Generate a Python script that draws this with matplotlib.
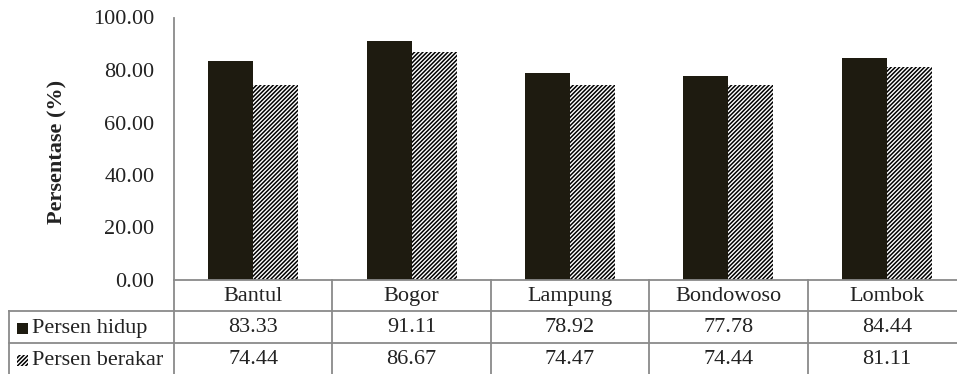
import matplotlib
matplotlib.use("Agg")
import matplotlib.pyplot as plt
from matplotlib.patches import Rectangle
import numpy as np

plt.rcParams['font.family'] = ['Liberation Serif', 'DejaVu Serif']
plt.rcParams['hatch.linewidth'] = 1.1

## data per lokasi
lokasi = ['Bantul', 'Bogor', 'Lampung', 'Bondowoso', 'Lombok']
persen_hidup = [83.33, 91.11, 78.92, 77.78, 84.44]
persen_berakar = [74.44, 86.67, 74.47, 74.44, 81.11]
seri = ['Persen hidup', 'Persen berakar']

dark = '#1e1b10'
grid_grey = '#8a8a8a'
txt = '#222222'
fs = 16
hatch = '////////'

W, H = 957, 374
x_axis = 174      # left edge of plot area (px)
x_right = 966     # right edge of plot area (px)
y_zero = 280      # baseline of bars (px from top)
y_top = 17.5
col_w = (x_right - x_axis) / len(lokasi)

fig = plt.figure(figsize=(W / 100, H / 100), dpi=100)

## bar chart
ax = fig.add_axes([x_axis / W, (H - y_zero) / H, (x_right - x_axis) / W, (y_zero - y_top) / H])
x = np.arange(len(lokasi))
w = 0.284
ax.bar(x - w / 2, persen_hidup, w, color=dark, linewidth=0)
ax.bar(x + w / 2, persen_berakar, w, color='white', edgecolor='black', hatch=hatch, linewidth=0)
ax.set_xlim(-0.5, len(lokasi) - 0.5)
ax.set_ylim(0, 100)
ax.set_yticks(np.arange(0, 101, 20))
ax.set_yticklabels(['%.2f' % v for v in np.arange(0, 101, 20)], fontsize=fs, color=txt)
ax.set_xticks([])
ax.tick_params(axis='y', length=0, pad=14)
for s in ['top', 'right', 'bottom']:
    ax.spines[s].set_visible(False)
ax.spines['left'].set_color(grid_grey)
ax.spines['left'].set_linewidth(1.3)

fig.text(57 / W, (H - 152) / H, 'Persentase (%)', rotation=90, fontsize=fs,
         fontweight='bold', ha='center', va='center', color=txt)

## data table under the chart
tab = fig.add_axes([0, 0, 1, 1], facecolor='none')
tab.set_xlim(0, W)
tab.set_ylim(H, 0)
tab.axis('off')

row_y = [y_zero, 311, 343, 376]
x_left = 9
lw = 1.3
tab.plot([x_axis, x_right], [row_y[0]] * 2, color=grid_grey, lw=lw)
for yy in row_y[1:3]:
    tab.plot([x_left, x_right], [yy] * 2, color=grid_grey, lw=lw)
tab.plot([x_left, x_left], [row_y[1], row_y[3]], color=grid_grey, lw=lw)
for i in range(len(lokasi) + 1):
    xx = x_axis + i * col_w
    tab.plot([xx, xx], [row_y[0], row_y[3]], color=grid_grey, lw=lw)

for i, nama in enumerate(lokasi):
    cx = x_axis + (i + 0.5) * col_w
    tab.text(cx, (row_y[0] + row_y[1]) / 2 + 1, nama, fontsize=fs, ha='center', va='center', color=txt)
    tab.text(cx, (row_y[1] + row_y[2]) / 2 + 1, '%.2f' % persen_hidup[i], fontsize=fs,
             ha='center', va='center', color=txt)
    tab.text(cx, (row_y[2] + row_y[3]) / 2, '%.2f' % persen_berakar[i], fontsize=fs,
             ha='center', va='center', color=txt)

## legend keys inside the table
for r, nama in enumerate(seri):
    yc = (row_y[r + 1] + row_y[r + 2]) / 2
    if r == 0:
        key = Rectangle((17, yc - 4.5), 11, 11, facecolor=dark, linewidth=0)
    else:
        key = Rectangle((17, yc - 5), 11, 11, facecolor='white', edgecolor='black',
                        hatch=hatch, linewidth=0)
    tab.add_patch(key)
    tab.text(32, yc + 1, nama, fontsize=fs, ha='left', va='center', color=txt)

fig.savefig('out.png', dpi=100)
